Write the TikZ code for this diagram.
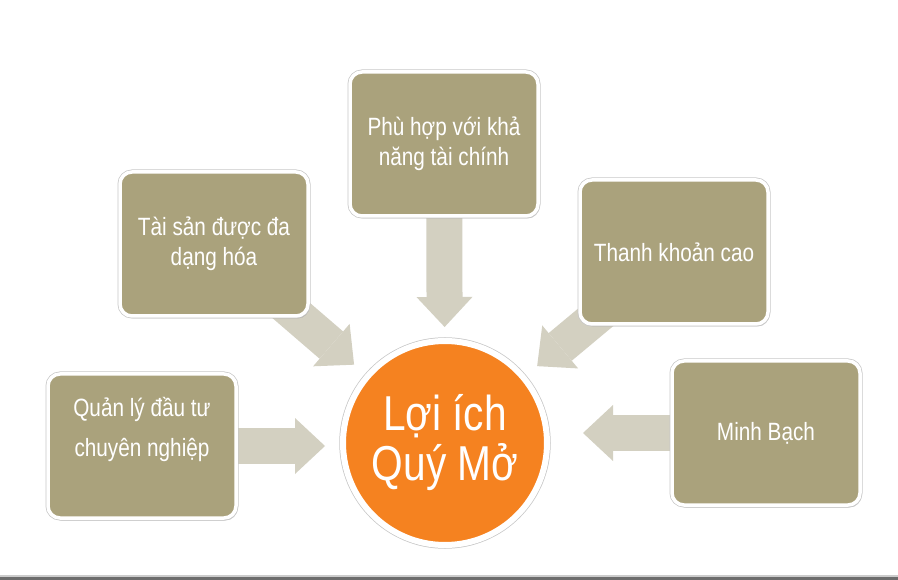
\documentclass[tikz,border=0pt]{standalone}
\usepackage{fontspec}
\setmainfont{Liberation Sans}[FakeStretch=0.83]
\usetikzlibrary{positioning}
\usetikzlibrary{arrows.meta}
\usetikzlibrary{shadows}
\usetikzlibrary{backgrounds}
\definecolor{olive}{HTML}{AAA27C}
\definecolor{pale}{HTML}{D3D0C1}
\definecolor{orng}{HTML}{F58220}
\definecolor{barcol}{HTML}{6D6D6D}

\begin{document}
\begin{tikzpicture}[x=1pt, y=-1pt,
        BEN/.style={rectangle, rounded corners=12pt, draw=white, line width=3.5pt, fill=olive, text=white, minimum width=188pt, minimum height=144pt, align=center, font=\fontsize{25}{30}\selectfont, drop shadow={opacity=0.4, shadow xshift=1.5pt, shadow yshift=-2.5pt}, preaction={draw=black!22, line width=5pt}},
        HUB/.style={circle, draw=white, line width=6pt, fill=orng, text=white, minimum size=204pt, align=center, font=\fontsize{49}{50}\selectfont, circular drop shadow={opacity=0.4, shadow scale=1, shadow xshift=1.5pt, shadow yshift=-3pt}, preaction={draw=black!22, line width=7.5pt}},
        ARW/.style={draw=pale, line width=36pt, -{Triangle[width=56pt, length=30pt, line width=0pt]}},
        ]
            \useasboundingbox (0,0) rectangle (898,580);

            \node[BEN] (phu) at (444,144) {Phù hợp với khả\\năng tài chính};
            \node[BEN] (tai) at (214,244) {Tài sản được đa\\dạng hóa};
            \node[BEN] (quan) at (142,446) {Quản lý đầu tư\\[10pt]chuyên nghiệp\\\strut};
            \node[BEN] (thanh) at (674,252) {Thanh khoản cao};
            \node[BEN] (minh) at (766,433) {Minh Bạch};
            \node[HUB] (loi) at (445,443) {Lợi ích\\Quý Mở};

            % block arrows behind the boxes
            \begin{scope}[on background layer]
                \draw[ARW, shorten >=11pt] (phu.center) -- (loi);
                \draw[ARW, shorten >=15pt] (quan.center) -- (quan.center -| loi.west);
                \draw[ARW, shorten >=33pt] (minh.center) -- (minh.center -| loi.east);
                \draw[ARW, shorten >=15pt] (tai.center) -- (loi);
                \draw[ARW, shorten >=15pt] (thanh.center) -- (loi);
            \end{scope}

            \fill[black!20] (0,575) rectangle (898,577);
            \fill[barcol] (0,577) rectangle (898,580);
        \end{tikzpicture}
\end{document}
